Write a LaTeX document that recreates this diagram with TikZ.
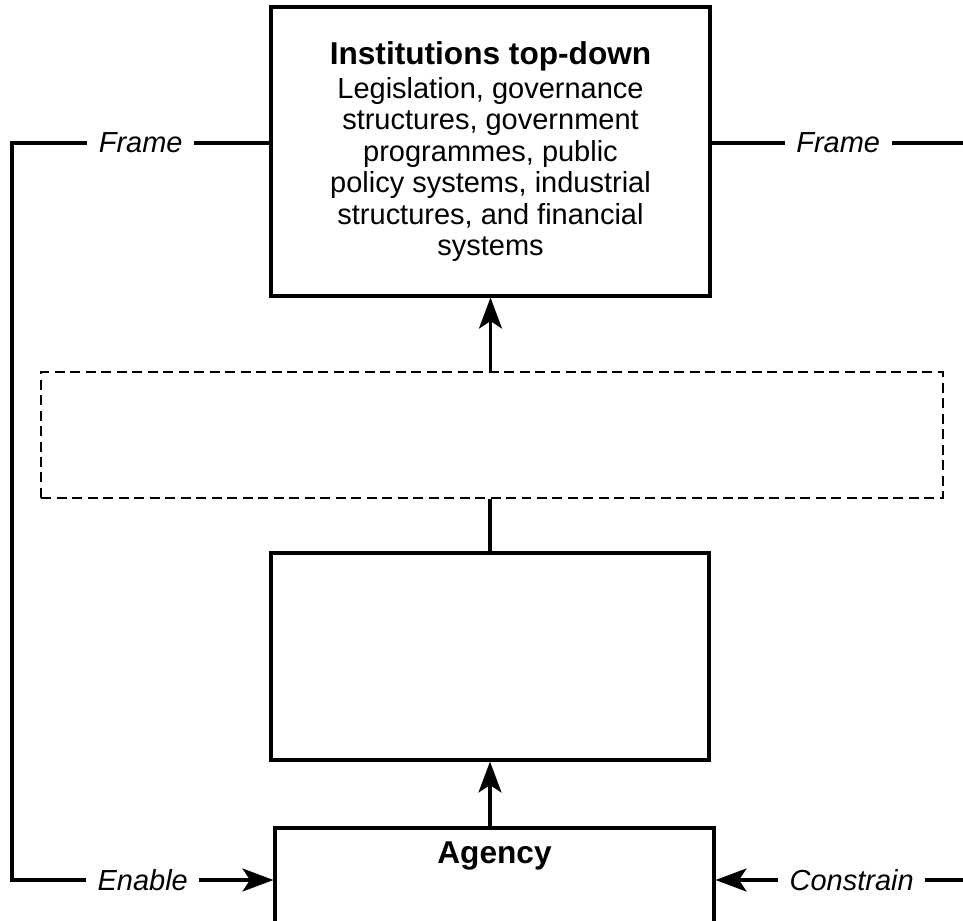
\documentclass[tikz,border=0pt]{standalone}
\usepackage{fontspec}
\setmainfont{Liberation Sans}
\usetikzlibrary{arrows.meta,calc}
\tikzset{
  ar/.style={-{Stealth[length=6.2mm,width=4.6mm,inset=1.5mm]}},
  box/.style={draw,line width=1.8pt,align=center,inner sep=0pt},
  lbl/.style={fill=white,font=\itshape\fontsize{16.5}{18}\selectfont,inner sep=2.3mm},
  hd/.style={font=\bfseries\fontsize{18}{20}\selectfont}
}
\begin{document}
\begin{tikzpicture}[x=0.02cm,y=-0.02cm,line width=1.8pt,font=\fontsize{16.5}{17.9}\selectfont]
\useasboundingbox (0,0) rectangle (963,920);
\clip (0,0) rectangle (963,920);
\node[box,minimum width=87.8mm,minimum height=57.8mm] (inst) at (490.5,151.5) {{\bfseries\fontsize{18}{20}\selectfont Institutions top-down}\\[1.5pt]Legislation, governance\\structures, government\\programmes, public\\policy systems, industrial\\structures, and financial\\systems};
\node[draw,line width=1.5pt,dash pattern=on 2mm off 1.1mm,minimum width=180.4mm,minimum height=25.2mm] (mech) at (492,435) {};
\node[box,minimum width=87.6mm,minimum height=41.4mm] (mid) at (490,656.5) {};
\node[box,minimum width=87.8mm,minimum height=20.8mm] (agency) at (494.5,880) {};
\node[hd] (agtxt) at (494.5,856) {Agency};
\coordinate (lt) at (12,143);
\coordinate (rt) at (970,143);
\draw[ar] (mid.south |- agency.north) -- (mid.south);
\draw (mid.north) -- (mid.north |- mech.south);
\draw[ar] (inst.south |- mech.north) -- (inst.south);
\draw[ar] (inst.west |- lt) -- node[lbl]{Frame} (lt) -- (lt |- agency.west) -- node[lbl]{Enable} (agency.west);
\draw[ar] (inst.east |- rt) -- node[lbl,pos=.49]{Frame} (rt) -- (rt |- agency.east) -- node[lbl,pos=.465]{Constrain} (agency.east);
\end{tikzpicture}
\end{document}
